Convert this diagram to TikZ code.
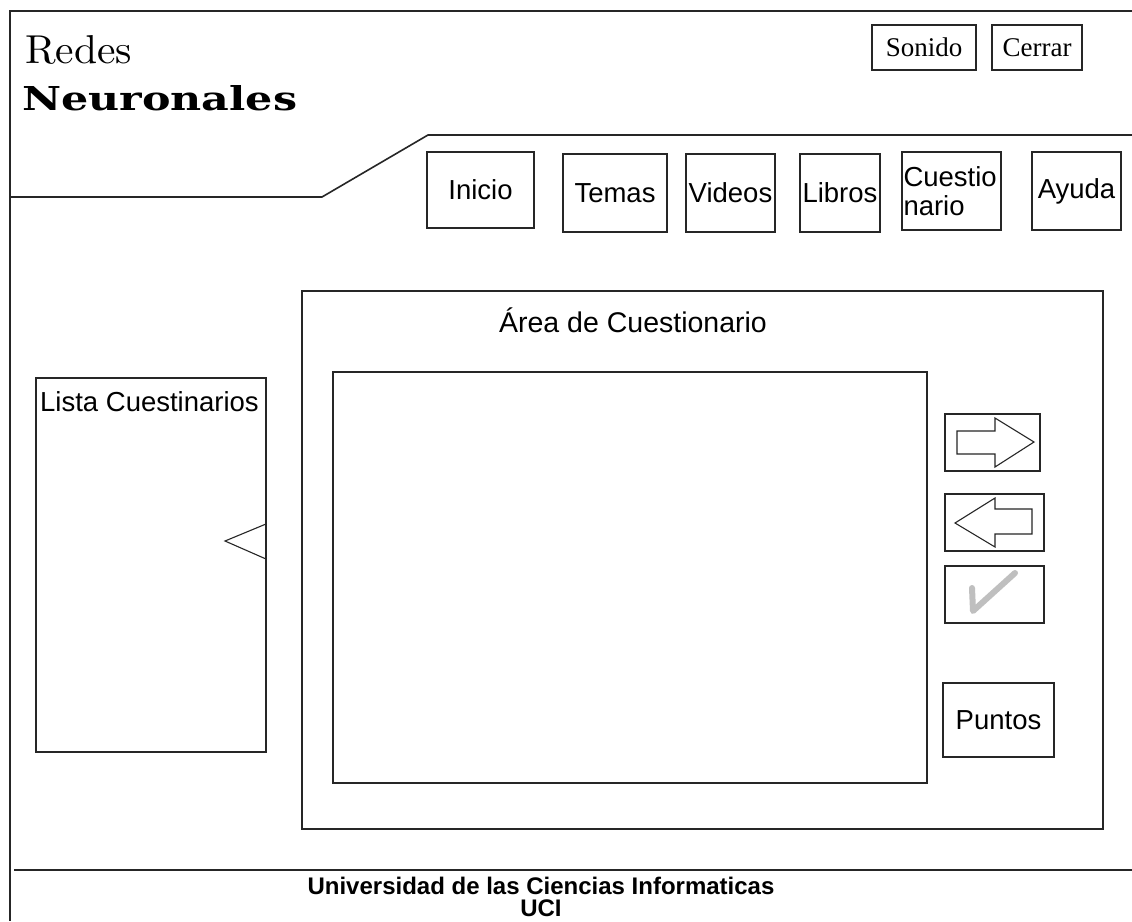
\documentclass[tikz,border=0pt]{standalone}
\usepackage{fontspec}
\usepackage{graphicx}
\newfontfamily\arialf{Liberation Sans}
\newfontfamily\romanf{Liberation Serif}
\newfontfamily\slabf{DejaVu Serif}
\begin{document}
\begin{tikzpicture}[x=1pt,y=-1pt,
  line/.style={draw=black!85, line width=1.6pt},
  box/.style={line, rectangle, inner sep=0pt, outer sep=0pt},
  lbl/.style={font=\arialf\fontsize{27.5}{29}\selectfont},
  btn/.style={box, font=\romanf\fontsize{27}{29}\selectfont},
  arrowshape/.style={draw=black!85, line width=1.1pt, line join=miter},
  tick/.style={draw=black!25, line width=6pt, line cap=round, line join=round}]
\useasboundingbox (0,0) rectangle (1132,921);
\fill[white] (0,0) rectangle (1132,921);

% page frame, header band and footer rule
\draw[line] (1132,11) -- (10,11) -- (10,921);
\draw[line] (10,197) -- (322,197) -- (428,135) -- (1132,135);
\draw[line] (14,870) -- (1132,870);

% title
\node[inner sep=0pt, anchor=north west] (t1) at (25,35)
  {\resizebox{107pt}{28pt}{Redes}};
\node[inner sep=0pt, anchor=north west] (t2) at (22,85)
  {\resizebox{275pt}{25pt}{\slabf\bfseries Neuronales}};

% window buttons
\node[btn, minimum width=104pt, minimum height=45pt] (sonido) at (924,47.5) {Sonido};
\node[btn, minimum width=90pt, minimum height=45pt] (cerrar) at (1037,47.5) {Cerrar};

% navigation
\node[box, lbl, minimum width=107pt, minimum height=76pt] (inicio) at (480.5,190) {Inicio};
\node[box, lbl, minimum width=104pt, minimum height=78pt] (temas) at (615,193) {Temas};
\node[box, lbl, minimum width=89pt, minimum height=78pt] (videos) at (730.5,193) {Videos};
\node[box, lbl, minimum width=80pt, minimum height=78pt] (libros) at (840,193) {Libros};
\node[box, lbl, minimum width=99pt, minimum height=78pt, text width=96pt, align=left] (cuest) at (951.5,191) {Cuestio\\nario};
\node[box, lbl, minimum width=89pt, minimum height=78pt] (ayuda) at (1076.5,191) {Ayuda};

% quiz list panel
\node[box, minimum width=230pt, minimum height=374pt] (lista) at (151,565) {};
\node[lbl, inner sep=0pt, anchor=west] (listat) at (40,402) {Lista Cuestinarios};
\draw[arrowshape] (266,524) -- (225,541) -- (266,559);

% quiz area
\node[box, minimum width=801pt, minimum height=538pt] (area) at (702.5,560) {};
\node[lbl, inner sep=0pt, font=\arialf\fontsize{28.5}{30}\selectfont] (areat) at (633,320) {Área de Cuestionario};
\node[box, minimum width=594pt, minimum height=411pt] (panel) at (630,577.5) {};

% next / previous / check / score
\node[box, minimum width=95pt, minimum height=57pt] (next) at (992.5,442.5) {};
\draw[arrowshape] (957,431) -- (995,431) -- (995,418) -- (1034,442) -- (995,467) -- (995,454) -- (957,454) -- cycle;
\node[box, minimum width=99pt, minimum height=57pt] (prev) at (994.5,522.5) {};
\draw[arrowshape] (1032,509) -- (995,509) -- (995,498) -- (955,523) -- (995,547) -- (995,534) -- (1032,534) -- cycle;
\node[box, minimum width=99pt, minimum height=57pt] (check) at (994.5,594.5) {};
\draw[tick] (972,588) -- (973,611) -- (1015,573);
\node[box, lbl, minimum width=111pt, minimum height=74pt] (puntos) at (998.5,720) {Puntos};

% footer
\node[font=\arialf\bfseries\fontsize{24}{22}\selectfont, inner sep=0pt, align=center, anchor=north] (uni) at (541,877)
  {Universidad de las Ciencias Informaticas\\UCI};
\end{tikzpicture}
\end{document}
